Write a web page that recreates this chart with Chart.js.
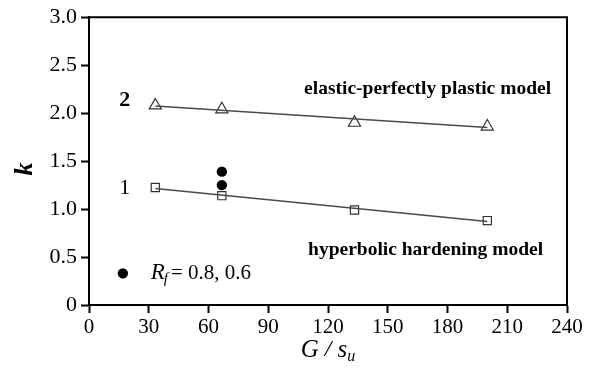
<!DOCTYPE html>
<html>
<head>
<meta charset="utf-8">
<script src="https://cdn.jsdelivr.net/npm/chart.js@4/dist/chart.umd.min.js"></script>
<style>
  html, body { margin: 0; padding: 0; background: #fff; }
  #wrap { width: 593px; height: 369px; position: relative; }
</style>
</head>
<body>
<div id="wrap"><canvas id="chart"></canvas></div>
<script>
// G/su values and k
const ratioX = [33.3, 66.7, 133.3, 200];
const kPerfectPlastic = [2.08, 2.04, 1.90, 1.86];
const kHyperbolic = [1.225, 1.14, 0.99, 0.88];

// fitted lines (end points)
const fitX = [33.3, 200];
const fitPerfectPlastic = [2.075, 1.85];
const fitHyperbolic = [1.215, 0.87];

// Rf = 0.8, 0.6 results
const rfX = [66.7, 66.7];
const rfK = [1.39, 1.25];
const legendDot = { x: 17, y: 0.33 };

const xTicks = [0, 30, 60, 90, 120, 150, 180, 210, 240];
const yTicks = [0, 0.5, 1.0, 1.5, 2.0, 2.5, 3.0];

const serif = '"Liberation Serif", "Times New Roman", serif';
const lineGray = '#4a4a4a';

const toPoints = (xs, ys) => xs.map((x, i) => ({ x, y: ys[i] }));

const decorations = {
  id: 'decorations',
  afterDraw(chart) {
    const { ctx, chartArea: a, scales: { x, y } } = chart;
    ctx.save();
    // top and right frame
    ctx.strokeStyle = '#000';
    ctx.lineWidth = 2;
    ctx.beginPath();
    ctx.moveTo(a.left, a.top);
    ctx.lineTo(a.right, a.top);
    ctx.lineTo(a.right, a.bottom);
    ctx.stroke();

    ctx.fillStyle = '#000';
    ctx.textBaseline = 'middle';

    // curve numbers
    ctx.textAlign = 'center';
    ctx.font = `bold 22px ${serif}`;
    ctx.fillText('2', x.getPixelForValue(18), y.getPixelForValue(2.13));
    ctx.font = `22px ${serif}`;
    ctx.fillText('1', x.getPixelForValue(18), y.getPixelForValue(1.22));

    // model labels
    ctx.font = `bold 19.5px ${serif}`;
    ctx.fillText('elastic-perfectly plastic model', x.getPixelForValue(170), y.getPixelForValue(2.25));
    ctx.fillText('hyperbolic hardening model', x.getPixelForValue(169), y.getPixelForValue(0.57));

    // Rf legend text
    ctx.textAlign = 'left';
    let px = x.getPixelForValue(31);
    const py = y.getPixelForValue(0.33);
    ctx.font = `italic 23px ${serif}`;
    ctx.fillText('R', px, py);
    px += ctx.measureText('R').width - 1;
    ctx.font = `italic 15px ${serif}`;
    ctx.fillText('f', px, py + 6);
    px += ctx.measureText('f').width + 3;
    ctx.font = `21px ${serif}`;
    ctx.fillText('= 0.8, 0.6', px, py);

    // y title
    ctx.save();
    ctx.translate(25, (a.top + a.bottom) / 2 + 8);
    ctx.rotate(-Math.PI / 2);
    ctx.textAlign = 'center';
    ctx.font = `bold italic 26px ${serif}`;
    ctx.fillText('k', 0, 0);
    ctx.restore();

    // x title  G / s_u
    const parts = [
      { t: 'G', f: `italic 25px ${serif}`, dy: 0 },
      { t: ' / ', f: `italic 24px ${serif}`, dy: 0 },
      { t: 's', f: `italic 25px ${serif}`, dy: 0 },
      { t: 'u', f: `italic 16px ${serif}`, dy: 7 }
    ];
    let total = 0;
    parts.forEach((p) => { ctx.font = p.f; total += ctx.measureText(p.t).width; });
    let tx = (a.left + a.right) / 2 - total / 2;
    const ty = 350;
    ctx.textAlign = 'left';
    parts.forEach((p) => {
      ctx.font = p.f;
      ctx.fillText(p.t, tx, ty + p.dy);
      tx += ctx.measureText(p.t).width;
    });
    ctx.restore();
  }
};

new Chart(document.getElementById('chart'), {
  type: 'scatter',
  data: {
    datasets: [
      {
        data: toPoints(fitX, fitPerfectPlastic),
        showLine: true, borderColor: lineGray, borderWidth: 1.5, pointRadius: 0
      },
      {
        data: toPoints(fitX, fitHyperbolic),
        showLine: true, borderColor: lineGray, borderWidth: 1.5, pointRadius: 0
      },
      {
        data: toPoints(ratioX, kPerfectPlastic),
        pointStyle: 'triangle', pointRadius: 7, borderWidth: 1.2,
        borderColor: '#333', backgroundColor: '#fff'
      },
      {
        data: toPoints(ratioX, kHyperbolic),
        pointStyle: 'rect', pointRadius: 5.8, borderWidth: 1.2,
        borderColor: '#333', backgroundColor: '#fff'
      },
      {
        data: toPoints(rfX, rfK).concat([legendDot]),
        pointStyle: 'circle', pointRadius: 5.2, borderWidth: 0,
        backgroundColor: '#000'
      }
    ]
  },
  options: {
    responsive: true,
    maintainAspectRatio: false,
    animation: false,
    layout: { padding: { left: 0, top: 16, right: 26, bottom: 0 } },
    plugins: { legend: { display: false }, tooltip: { enabled: false } },
    scales: {
      x: {
        type: 'linear', min: 0, max: 240,
        afterBuildTicks: (scale) => { scale.ticks = xTicks.map((value) => ({ value })); },
        afterFit: (scale) => { scale.height = 64; },
        grid: { drawOnChartArea: false, tickLength: 8, tickWidth: 2, color: '#000' },
        border: { color: '#000', width: 2 },
        ticks: { color: '#000', padding: 2, maxRotation: 0, font: { family: serif, size: 21 } }
      },
      y: {
        type: 'linear', min: 0, max: 3,
        afterBuildTicks: (scale) => { scale.ticks = yTicks.map((value) => ({ value })); },
        afterFit: (scale) => { scale.width = 89; },
        grid: { drawOnChartArea: false, tickLength: 8, tickWidth: 2, color: '#000' },
        border: { color: '#000', width: 2 },
        ticks: {
          color: '#000', padding: 4, font: { family: serif, size: 22 },
          callback: (v) => (v === 0 ? '0' : v.toFixed(1))
        }
      }
    }
  },
  plugins: [decorations]
});
</script>
</body>
</html>
